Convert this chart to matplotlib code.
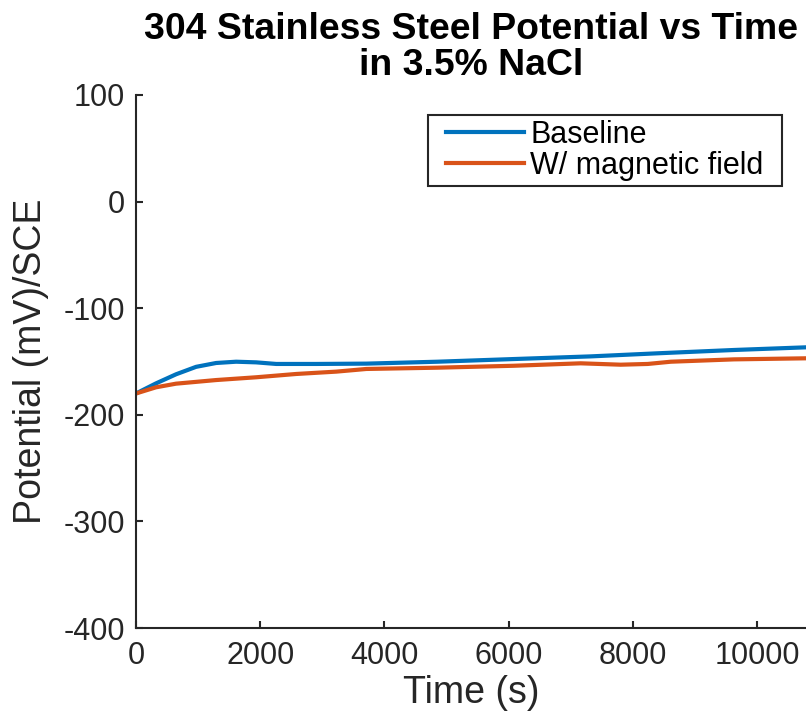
import numpy as np
import matplotlib
matplotlib.use("Agg")
import matplotlib.pyplot as plt
from matplotlib.patches import Rectangle

# readings
t_base = [0, 323, 645, 968, 1290, 1613, 1935, 2258, 2903, 3710, 4855, 6081, 7323, 8403, 9629, 10790]
e_base = [-180, -170.5, -162, -155, -151.4, -150.2, -150.8, -152.3, -152.3, -152, -150.2, -147.7, -145.2, -142.3, -139.2, -136.7]

t_mag = [0, 323, 645, 1290, 1935, 2580, 3226, 3710, 4855, 6081, 7161, 7806, 8242, 8613, 9629, 10790]
e_mag = [-180, -174.2, -170.8, -167.4, -164.8, -161.7, -159.5, -157, -155.8, -154, -151.7, -153, -152.3, -150.2, -148, -147]

xticks = [0, 2000, 4000, 6000, 8000, 10000]
yticks = [-400, -300, -200, -100, 0, 100]

title1 = '304 Stainless Steel Potential vs Time'
title2 = 'in 3.5% NaCl'

plt.rcParams['font.family'] = ['Liberation Sans', 'DejaVu Sans']
plt.rcParams['axes.unicode_minus'] = False
dark = '#262626'
W, H = 806, 713

fig = plt.figure(figsize=(W/100, H/100), dpi=100)
ax = fig.add_axes([136/W, 1 - 628/H, 1 - 136/W, (628 - 95)/H])

ax.plot(t_base, e_base, color='#0072BD', lw=3, label='Baseline')
ax.plot(t_mag, e_mag, color='#D95319', lw=3, label='W/ magnetic field')

ax.set_xlim(0, 10790)
ax.set_ylim(-400, 100)
ax.set_xticks(xticks)
ax.set_yticks(yticks)
ax.tick_params(direction='in', length=5, width=1.5, colors=dark, labelsize=22)
ax.tick_params(axis='x', pad=9)
ax.tick_params(axis='y', pad=8)
for s in ['top', 'right']:
    ax.spines[s].set_visible(False)
for s in ['left', 'bottom']:
    ax.spines[s].set_color(dark)
    ax.spines[s].set_linewidth(1.5)

ax.set_xlabel('Time (s)', fontsize=27, color=dark, labelpad=3)
ax.set_ylabel('Potential (mV)/SCE', fontsize=27, color=dark, labelpad=10)

# title: bold, sized so the first line is as wide as in the reference
t1 = fig.text(471/W, 1 - 39/H, title1, ha='center', va='baseline', fontweight='bold', fontsize=22)
fig.canvas.draw()
size = 22 * 654 / t1.get_window_extent().width
t1.set_fontsize(size)
fig.text(471/W, 1 - 75/H, title2, ha='center', va='baseline', fontweight='bold', fontsize=size)

leg = ax.legend(loc='upper right', bbox_to_anchor=((768 - 136)/670, 1 - 20/533), borderaxespad=0,
                fontsize=22, frameon=False, handlelength=2.55, handletextpad=0.2,
                borderpad=0.15, labelspacing=0.05)
leg.set_zorder(6)
fig.canvas.draw()
bb = leg.get_window_extent()
x0, x1 = bb.x0 - 14, bb.x1 + 14
box = Rectangle((x0/W, bb.y0/H), (x1 - x0)/W, bb.height/H, transform=fig.transFigure,
                facecolor='white', edgecolor=dark, lw=1.5, zorder=5, clip_on=False)
ax.add_patch(box)

fig.savefig('out.png', dpi=100)
